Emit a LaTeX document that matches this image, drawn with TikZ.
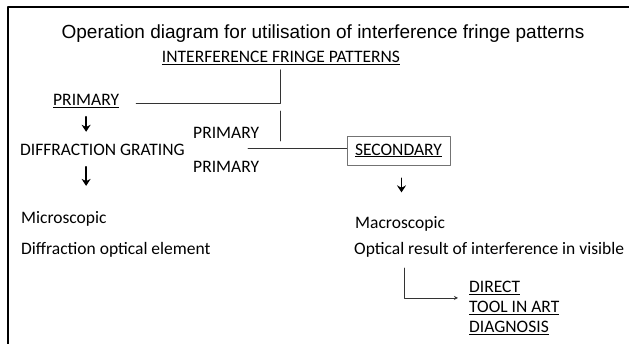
\documentclass[tikz,border=0pt]{standalone}
\usepackage{fontspec}
\setmainfont{Carlito}
\newfontfamily\titlefont{Liberation Sans}
\usetikzlibrary{arrows.meta,calc}

\begin{document}
\begin{tikzpicture}[x=1pt, y=-1pt, line cap=round, line join=round,
    txt/.style={inner sep=0pt, anchor=base west, font=\fontsize{17.5}{21}\selectfont},
    link/.style={line width=0.9pt, draw=black!80},
    downarr/.style={line width=1.8pt, -{Stealth[length=7pt,width=9pt]}}]
  \useasboundingbox (0,0) rectangle (629,344);

  % Frame (cut off on the right and at the bottom)
  \draw[line width=1.6pt] (8,344) -- (8,7) -- (629,7);

  % Title and top label
  \node[inner sep=0pt, anchor=base, font=\titlefont\fontsize{19}{23}\selectfont] (title) at (323,39)
    {Operation diagram for utilisation of interference fringe patterns};
  \node[txt, anchor=base] (ifp) at (281,62.6) {\underline{INTERFERENCE FRINGE PATTERNS}};

  % Left branch: primary
  \node[txt] (prim) at (53,105.6) {\underline{PRIMARY}};
  \node[txt] (grating) at (20,155.6) {DIFFRACTION GRATING};
  \node[txt] (primb) at (193,138.6) {PRIMARY};
  \node[txt] (primc) at (193,172.6) {PRIMARY};
  \node[txt] (micro) at (21,224) {Microscopic};
  \node[txt] (doe) at (21,255) {Diffraction optical element};

  % Right branch: secondary
  \node[inner sep=0pt, minimum width=103pt, minimum height=29pt, draw=black!55, line width=0.8pt,
    font=\fontsize{17.5}{21}\selectfont] (sec) at (398.5,150.5) {\underline{SECONDARY}};
  \node[txt] (macro) at (355,229) {Macroscopic};
  \node[txt] (optical) at (354,255) {Optical result of interference in visible};
  \node[txt] (direct) at (469,292.6) {\underline{DIRECT}};
  \node[txt] (tool) at (469,312.6) {\underline{TOOL IN ART}};
  \node[txt] (diag) at (469,332.6) {\underline{DIAGNOSIS}};

  % Lines from the top label
  \coordinate (j1) at (280,103);
  \draw[link] ([xshift=17pt]prim.east |- j1) -- (j1) -- ([yshift=-5pt]ifp.south -| j1);
  \coordinate (j2) at (280,111);
  \draw[link] (j2) -- ++(0,30);
  \coordinate (h1) at (248,148);
  \draw[link] (h1) -- (h1 -| sec.west);

  % Down arrows
  \draw[downarr] ([yshift=-9pt]prim.south) -- ++(0,15);
  \draw[downarr] ([yshift=-11pt]grating.south -| prim.south) -- ++(0,19);
  \draw[downarr] ([xshift=3pt,yshift=-13pt]sec.south) -- ++(0,14);

  % L-shaped arrow to the three uses
  \coordinate (l1) at (404,268);
  \draw[link, -{Stealth[length=4pt,width=4pt]}] (l1) |- ([xshift=-11pt]$(direct.west)!0.5!(tool.west)$);
\end{tikzpicture}
\end{document}
